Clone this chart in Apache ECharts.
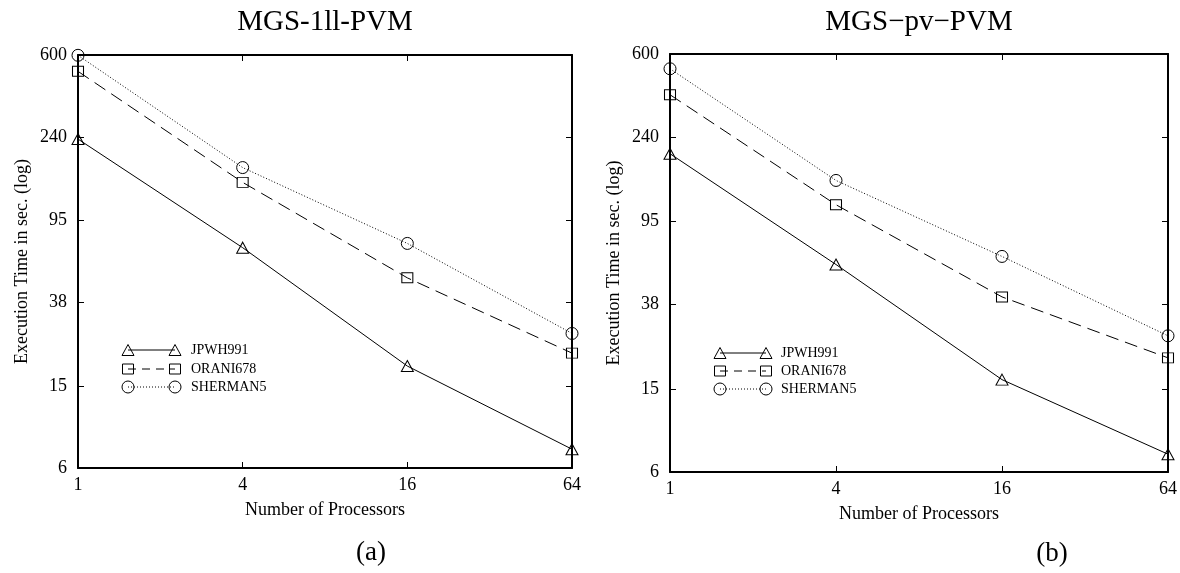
<!DOCTYPE html>
<html><head><meta charset="utf-8">
<script src="https://cdn.jsdelivr.net/npm/echarts@6/dist/echarts.min.js"></script>
<style>html,body{margin:0;padding:0;background:#fff}#c{width:1180px;height:573px}</style>
</head><body><div id="c"></div>
<script>
// ---- data ----
const processors = [1, 4, 16, 64];
const xTickLabels = [1, 4, 16, 64];
const yTickLabels = [6, 15, 38, 95, 240, 600];
const seriesNames = ['JPWH991', 'ORANI678', 'SHERMAN5'];
const chartTitles = ['MGS-1ll-PVM', 'MGS\u2212pv\u2212PVM'];
const subLabels = ['(a)', '(b)'];
const xAxisName = 'Number of Processors';
const yAxisName = 'Execution Time in sec. (log)';
// (a) MGS-1ll-PVM, execution time in seconds
const a_JPWH991 = [235, 70, 18.7, 7.4];
const a_ORANI678 = [500, 145, 50, 21.6];
const a_SHERMAN5 = [598, 171, 73.4, 26.9];
// (b) MGS-pv-PVM, execution time in seconds
const b_JPWH991 = [200, 59, 16.6, 7.3];
const b_ORANI678 = [383, 114, 41.3, 21.1];
const b_SHERMAN5 = [510, 149, 64.5, 26.9];

// ---- styling ----
const FONT = '"Liberation Serif", "Times New Roman", serif';
const panelValues = [[a_JPWH991, a_ORANI678, a_SHERMAN5], [b_JPWH991, b_ORANI678, b_SHERMAN5]];
const symbols = ['triangle', 'rect', 'circle'];
const symbolSizes = [[12, 11], [11, 10], 12];
const dashes = ['solid', [13, 7], [1, 2]];
const gridBoxes = [
  {left: 78, top: 55, width: 494, height: 413},
  {left: 670, top: 54, width: 498, height: 418}
];
const legendRows = [
  {x1: 128, x2: 175, tx: 191, ys: [350, 369, 387]},
  {x1: 720, x2: 766, tx: 781, ys: [353, 371, 389]}
];
const subLabelPos = [[371, 553], [1052, 554]];
const titlePos = [325, 919];

const xAxes = [], yAxes = [], series = [], graphics = [], titles = [];
const axisLineStyle = {show: true, onZero: false, lineStyle: {color: '#000', width: 2}};

gridBoxes.forEach((g, gi) => {
  const baseX = {
    type: 'log', logBase: 2, min: 1, max: 64, gridIndex: gi,
    axisLine: axisLineStyle, splitLine: {show: false},
    axisTick: {show: true, inside: true, length: 6, customValues: xTickLabels, lineStyle: {color: '#000', width: 1}}
  };
  xAxes.push(Object.assign({}, baseX, {
    position: 'bottom',
    name: xAxisName, nameLocation: 'middle', nameGap: 33,
    nameTextStyle: {fontFamily: FONT, fontSize: 18, color: '#000'},
    axisLabel: {show: true, customValues: xTickLabels, fontFamily: FONT, fontSize: 18, color: '#000', margin: 8}
  }));
  xAxes.push(Object.assign({}, baseX, {position: 'top', axisLabel: {show: false}}));
  const baseY = {
    type: 'log', logBase: 10, min: 6, max: 600, gridIndex: gi,
    axisLine: axisLineStyle, splitLine: {show: false},
    axisTick: {show: true, inside: true, length: 6, customValues: yTickLabels, lineStyle: {color: '#000', width: 1}}
  };
  yAxes.push(Object.assign({}, baseY, {
    position: 'left',
    name: yAxisName, nameLocation: 'middle', nameGap: 47, nameRotate: 90,
    nameTextStyle: {fontFamily: FONT, fontSize: 18, color: '#000'},
    axisLabel: {show: true, customValues: yTickLabels, fontFamily: FONT, fontSize: 18, color: '#000', margin: 11}
  }));
  yAxes.push(Object.assign({}, baseY, {position: 'right', axisLabel: {show: false}}));

  panelValues[gi].forEach((vals, si) => {
    series.push({
      type: 'line', name: seriesNames[si],
      xAxisIndex: gi * 2, yAxisIndex: gi * 2,
      data: processors.map((p, k) => [p, vals[k]]),
      symbol: symbols[si], symbolSize: symbolSizes[si], showAllSymbol: true,
      clip: false, animation: false, silent: true,
      lineStyle: {color: '#000', width: 1, type: dashes[si]},
      itemStyle: {color: 'rgba(0,0,0,0)', borderColor: '#000', borderWidth: 1},
      emphasis: {disabled: true}
    });
  });

  titles.push({
    text: chartTitles[gi], left: titlePos[gi], top: 8, textAlign: 'center', padding: 0,
    textStyle: {fontFamily: FONT, fontSize: 29, fontWeight: 'normal', color: '#000'}
  });

  // legend drawn as graphic (line sample with marker at both ends)
  const L = legendRows[gi];
  seriesNames.forEach((name, si) => {
    const y = L.ys[si];
    graphics.push({type: 'line', shape: {x1: L.x1, y1: y, x2: L.x2, y2: y},
      style: {stroke: '#000', lineWidth: 1, lineDash: si === 0 ? null : (si === 1 ? [8, 6] : [1, 2])}});
    [L.x1, L.x2].forEach(cx => {
      if (si === 0) graphics.push({type: 'polygon', shape: {points: [[cx, y - 5.5], [cx + 6, y + 5.5], [cx - 6, y + 5.5]]}, style: {fill: 'none', stroke: '#000', lineWidth: 1}});
      else if (si === 1) graphics.push({type: 'rect', shape: {x: cx - 5.5, y: y - 5, width: 11, height: 10}, style: {fill: 'none', stroke: '#000', lineWidth: 1}});
      else graphics.push({type: 'circle', shape: {cx: cx, cy: y, r: 6}, style: {fill: 'none', stroke: '#000', lineWidth: 1}});
    });
    graphics.push({type: 'text', x: L.tx, y: y, style: {text: name, font: '14px ' + FONT, fill: '#000', verticalAlign: 'middle', align: 'left'}});
  });
  graphics.push({type: 'text', x: subLabelPos[gi][0], y: subLabelPos[gi][1],
    style: {text: subLabels[gi], font: '27px ' + FONT, fill: '#000', align: 'center', verticalAlign: 'middle'}});
});

const chart = echarts.init(document.getElementById('c'), null, {renderer: 'canvas'});
chart.setOption({
  animation: false,
  backgroundColor: '#fff',
  title: titles,
  grid: gridBoxes.map(g => Object.assign({containLabel: false, outerBoundsMode: 'none'}, g)),
  xAxis: xAxes,
  yAxis: yAxes,
  series: series,
  graphic: graphics
});
</script></body></html>
